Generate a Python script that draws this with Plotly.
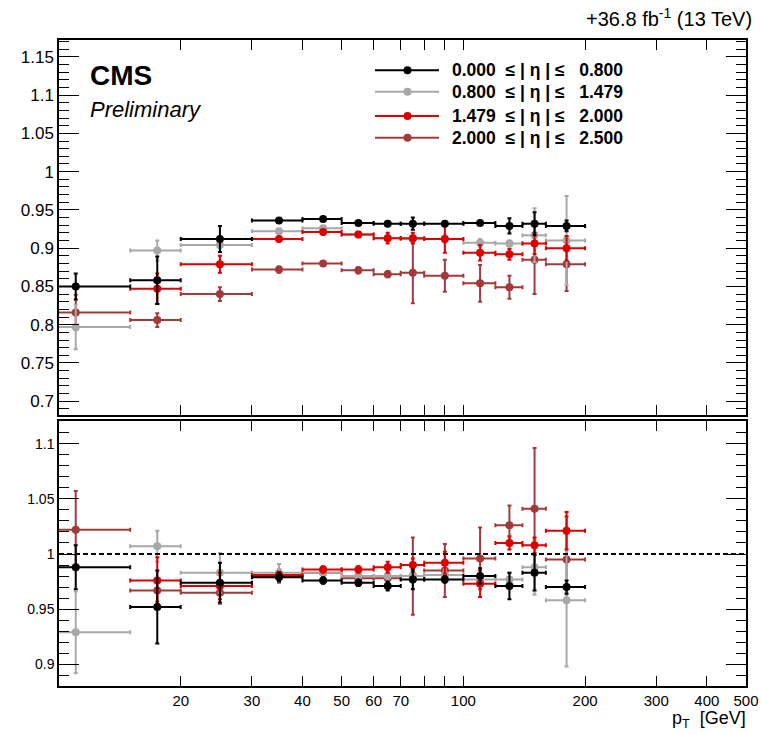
import plotly.graph_objects as go

# pT binning (GeV)
pt_lo = [7, 15, 20, 30, 40, 50, 60, 70, 80, 100, 120, 140, 160]
pt_hi = [15, 20, 30, 40, 50, 60, 70, 80, 100, 120, 140, 160, 200]
pt_center = [11, 17.5, 25, 35, 45, 55, 65, 75, 90, 110, 130, 150, 180]

# x-axis ticks
x_tickvals = [20, 30, 40, 50, 60, 70, 100, 200, 300, 400, 500]
x_ticktext = ["20", "30", "40", "50", "60", "70", "100", "200", "300", "400", "500"]
x_minor_tickvals = [80, 90]

eta_labels = [
    "0.000  ≤ | η | ≤   0.800",
    "0.800  ≤ | η | ≤   1.479",
    "1.479  ≤ | η | ≤   2.000",
    "2.000  ≤ | η | ≤   2.500",
]
colors = ["#000000", "#a8a8a8", "#dc0000", "#a33a3a"]

# efficiency per eta bin
eff_eta0 = [0.850, 0.858, 0.912, 0.936, 0.938, 0.933, 0.932, 0.932, 0.932, 0.933, 0.929, 0.932, 0.929]
eff_err0 = [0.017, 0.031, 0.017, 0.003, 0.002, 0.002, 0.003, 0.008, 0.002, 0.002, 0.010, 0.015, 0.007]
eff_eta1 = [0.797, 0.897, 0.904, 0.922, 0.926, 0.918, 0.913, 0.912, 0.912, 0.907, 0.906, 0.917, 0.910]
eff_err1 = [0.029, 0.013, 0.004, 0.003, 0.002, 0.003, 0.004, 0.005, 0.005, 0.005, 0.004, 0.035, 0.058]
eff_eta2 = [None, 0.847, 0.879, 0.912, 0.921, 0.918, 0.913, 0.913, 0.912, 0.894, 0.892, 0.906, 0.900]
eff_err2 = [0.0, 0.020, 0.011, 0.003, 0.003, 0.003, 0.007, 0.007, 0.018, 0.010, 0.007, 0.014, 0.016]
eff_eta3 = [0.816, 0.806, 0.840, 0.872, 0.880, 0.871, 0.866, 0.868, 0.864, 0.854, 0.849, 0.885, 0.879]
eff_err3 = [0.023, 0.009, 0.009, 0.004, 0.003, 0.004, 0.004, 0.040, 0.021, 0.024, 0.015, 0.045, 0.035]

# data / simulation ratio per eta bin
sf_eta0 = [0.988, 0.952, 0.974, 0.979, 0.976, 0.974, 0.971, 0.977, 0.977, 0.980, 0.971, 0.983, 0.970]
sf_err0 = [0.020, 0.033, 0.018, 0.004, 0.003, 0.003, 0.004, 0.009, 0.003, 0.007, 0.012, 0.016, 0.006]
sf_eta1 = [0.929, 1.007, 0.983, 0.983, 0.983, 0.980, 0.980, 0.980, 0.981, 0.977, 0.977, 0.988, 0.958]
sf_err1 = [0.037, 0.014, 0.018, 0.008, 0.004, 0.004, 0.004, 0.005, 0.005, 0.005, 0.006, 0.025, 0.060]
sf_eta2 = [None, 0.976, 0.971, 0.981, 0.986, 0.986, 0.988, 0.990, 0.992, 0.973, 1.010, 1.008, 1.021]
sf_err2 = [0.0, 0.021, 0.012, 0.003, 0.003, 0.003, 0.005, 0.006, 0.010, 0.012, 0.006, 0.007, 0.017]
sf_eta3 = [1.022, 0.967, 0.965, 0.980, 0.983, 0.978, 0.978, 0.980, 0.985, 0.996, 1.026, 1.041, 0.995]
sf_err3 = [0.035, 0.010, 0.010, 0.006, 0.003, 0.004, 0.004, 0.035, 0.024, 0.028, 0.018, 0.055, 0.039]

eff = [eff_eta0, eff_eta1, eff_eta2, eff_eta3]
eff_err = [eff_err0, eff_err1, eff_err2, eff_err3]
sf = [sf_eta0, sf_eta1, sf_eta2, sf_eta3]
sf_err = [sf_err0, sf_err1, sf_err2, sf_err3]

x_plus = [h - c for h, c in zip(pt_hi, pt_center)]
x_minus = [c - l for c, l in zip(pt_center, pt_lo)]

FONT = "Liberation Sans, Arial, Helvetica, sans-serif"
W, H = 761, 734
ML, MR, MT, MB = 59, 15, 40, 48
PW, PH = W - ML - MR, H - MT - MB


def px(xpix):
    return (xpix - ML) / PW


def py(ypix):
    return (H - MB - ypix) / PH


fig = go.Figure()

draw_order = [3, 1, 2, 0]
for xa, ya, vals, errs in [("x", "y", eff, eff_err), ("x2", "y2", sf, sf_err)]:
    for i in draw_order:
        c = colors[i]
        fig.add_trace(go.Scatter(
            x=pt_center, y=vals[i], mode="markers", xaxis=xa, yaxis=ya,
            marker=dict(color=c, size=8, symbol="circle"),
            error_x=dict(type="data", symmetric=False, array=x_plus, arrayminus=x_minus,
                         color=c, thickness=2, width=2),
            error_y=dict(type="data", array=errs[i], color=c, thickness=2, width=2),
            showlegend=False, name=eta_labels[i], cliponaxis=True,
        ))

axis_common = dict(
    type="log", range=[1.0, 2.699], showline=True, linecolor="black", linewidth=1.5,
    mirror="ticks", ticks="inside", ticklen=10, tickwidth=1.2, tickcolor="black",
    showgrid=False, zeroline=False, automargin=False,
    tickmode="array", tickvals=x_tickvals, ticktext=x_ticktext,
    minor=dict(ticks="inside", ticklen=10, tickmode="array", tickvals=x_minor_tickvals,
               tickcolor="black", tickwidth=1.2),
    tickfont=dict(family=FONT, size=15, color="black"),
)

yaxis_common = dict(
    showline=True, linecolor="black", linewidth=1.5, mirror="ticks",
    ticks="inside", ticklen=20, tickwidth=1.2, tickcolor="black",
    showgrid=False, zeroline=False, automargin=False,
    minor=dict(ticks="inside", ticklen=10, dtick=0.01, tick0=0, tickcolor="black", tickwidth=1),
)

fig.update_layout(
    width=W, height=H,
    margin=dict(l=ML, r=MR, t=MT, b=MB, autoexpand=False),
    paper_bgcolor="white", plot_bgcolor="white",
    showlegend=False,
    xaxis=dict(axis_common, domain=[0, 1], anchor="y", showticklabels=False),
    yaxis=dict(yaxis_common, domain=[py(415), 1], range=[0.682, 1.172], anchor="x",
               tickvals=[0.7, 0.75, 0.8, 0.85, 0.9, 0.95, 1, 1.05, 1.1, 1.15],
               ticktext=["0.7", "0.75", "0.8", "0.85", "0.9", "0.95", "1", "1.05", "1.1", "1.15"],
               tickfont=dict(family=FONT, size=17, color="black")),
    xaxis2=dict(axis_common, domain=[0, 1], anchor="y2"),
    yaxis2=dict(yaxis_common, domain=[0, py(421)], range=[0.8804, 1.1205], anchor="x2",
                tickvals=[0.9, 0.95, 1, 1.05, 1.1],
                ticktext=["0.9", "0.95", "1", "1.05", "1.1"],
                tickfont=dict(family=FONT, size=14, color="black")),
)

# unity reference line in the ratio panel
fig.add_shape(type="line", xref="x2 domain", yref="y2", x0=0, x1=1, y0=1, y1=1,
              line=dict(color="black", width=2, dash="5px,3px"))

# legend drawn as line + marker keys with labels
leg_rows = [70.3, 91.7, 116, 137.7]
for i, yrow in enumerate(leg_rows):
    cy = py(yrow)
    fig.add_shape(type="line", xref="paper", yref="paper",
                  x0=px(375), x1=px(439), y0=cy, y1=cy,
                  line=dict(color=colors[i], width=2))
    rx, ry = 4.0 / PW, 4.0 / PH
    fig.add_shape(type="circle", xref="paper", yref="paper",
                  x0=px(407.5) - rx, x1=px(407.5) + rx, y0=cy - ry, y1=cy + ry,
                  fillcolor=colors[i], line=dict(width=0))
    fig.add_annotation(xref="paper", yref="paper", x=px(450), y=cy,
                       xanchor="left", yanchor="middle", showarrow=False,
                       text="<b>" + eta_labels[i] + "</b>",
                       font=dict(family=FONT, size=17.5, color="black"))

# labels
fig.add_annotation(xref="paper", yref="paper", x=px(88), y=py(76),
                   xanchor="left", yanchor="middle", showarrow=False,
                   text="<b>CMS</b>", font=dict(family=FONT, size=28, color="black"))
fig.add_annotation(xref="paper", yref="paper", x=px(88), y=py(109),
                   xanchor="left", yanchor="middle", showarrow=False,
                   text="<i>Preliminary</i>", font=dict(family=FONT, size=22, color="black"))
fig.add_annotation(xref="paper", yref="paper", x=px(754), y=py(17),
                   xanchor="right", yanchor="middle", showarrow=False,
                   text="+36.8 fb<sup>-1</sup> (13 TeV)", font=dict(family=FONT, size=20, color="black"))
fig.add_annotation(xref="paper", yref="paper", x=px(748), y=py(719),
                   xanchor="right", yanchor="middle", showarrow=False,
                   text="p<sub>T</sub>  [GeV]", font=dict(family=FONT, size=18, color="black"))

fig.write_html("out.html")
